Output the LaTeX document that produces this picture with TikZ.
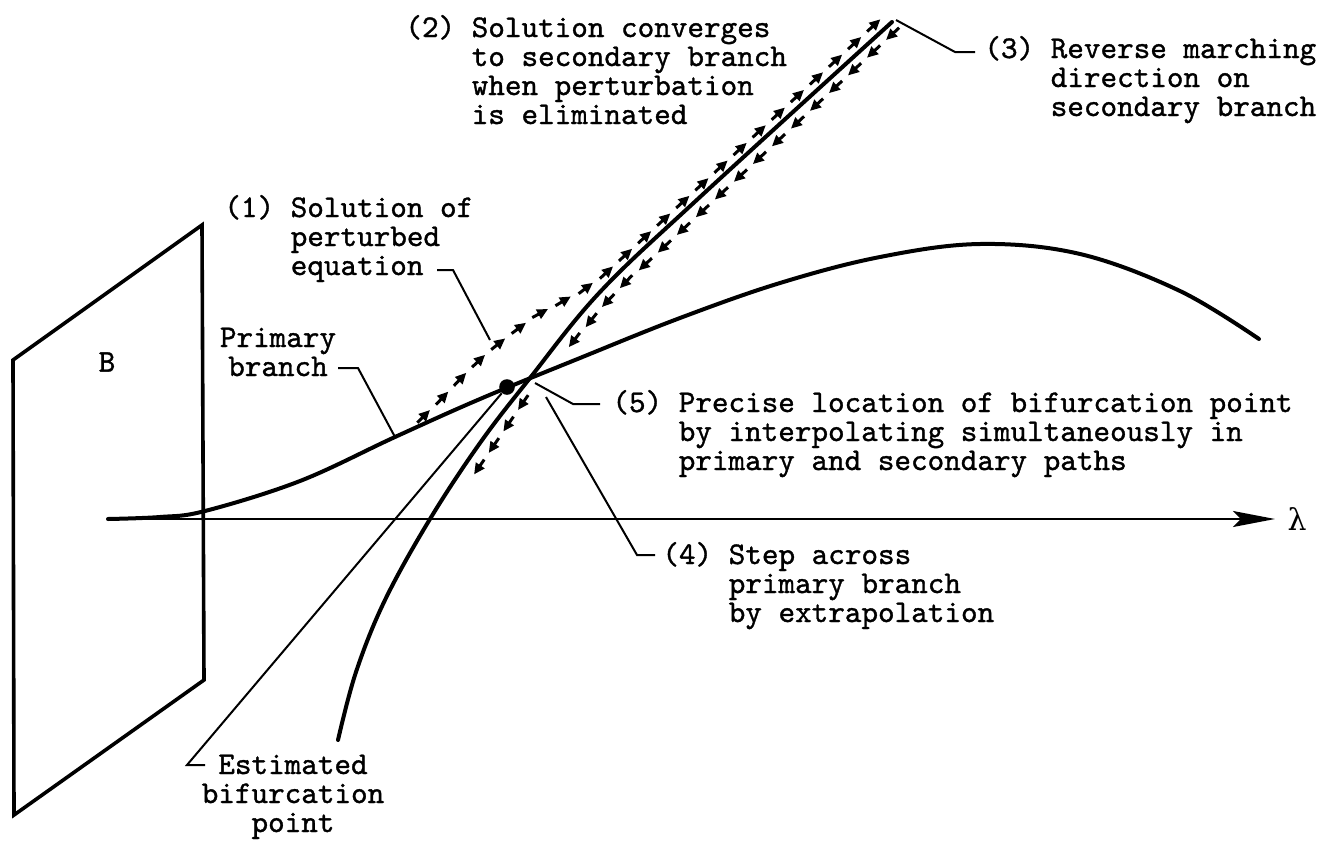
\documentclass[tikz,border=0pt]{standalone}
\usepackage{fontspec}
\usetikzlibrary{arrows.meta,decorations.markings}
\newfontfamily\twf{lmmono10-regular.otf}[FakeBold=1.1]
\newfontfamily\lamf{DejaVu Serif}
\newcommand\twfont{\twf\fontsize{15.8pt}{14.5pt}\selectfont}
\begin{document}
\begin{tikzpicture}[x=0.5pt,y=-0.5pt,
  branch/.style={line width=2pt,line cap=round},
  plane/.style={line width=1.8pt,line join=miter},
  leader/.style={line width=1pt},
  lbl/.style={inner sep=0pt,anchor=base west,font=\twfont},
  clbl/.style={inner sep=0pt,anchor=base,font=\twfont},
  march/.style={decoration={markings,
      mark=between positions 0 and 1 step 13pt with
      {\draw[line width=1.5pt,-{Triangle[length=5.5pt,width=5pt]}] (-9pt,0) -- (0,0);}},
    decorate},
]
\useasboundingbox (0,0) rectangle (1333,841);

% plane B
\coordinate (p1) at (13,360);
\coordinate (p2) at (202,225);
\coordinate (p3) at (204,680);
\coordinate (p4) at (14,815);
\draw[plane] (p1) -- (p2) -- (p3) -- (p4) -- cycle;
\node[clbl,anchor=center] (B) at (107,362) {B};

% axis
\coordinate (origin) at (108,519);
\coordinate (axend) at (1275,519);
\draw[line width=1.2pt,-{Stealth[length=21pt,width=8pt,inset=4pt]}] (origin) -- (axend);
\node[anchor=center,inner sep=0pt] (lam) at (1297,519) {\lamf\fontsize{15pt}{15pt}\selectfont λ};

% primary branch
\draw[branch] plot[smooth,tension=0.6] coordinates {(108,519) (160,517) (205,511) (300,481) (395,437) (480,399) (580,358) (680,318) (780,283) (880,257) (980,244) (1080,254) (1180,291) (1259,339)};

% secondary branch
\draw[branch] plot[smooth,tension=0.6] coordinates {(338,740) (356,672) (385,600) (430,519) (480,443) (530,378) (600,292) (700,197) (892,22)};

% estimated bifurcation point
\node[circle,fill,inner sep=0pt,minimum size=7.8pt] (dot) at (507,387) {};

% marching paths
\path[march] (430,410) -- (447,393) -- (467,372) -- (487,353) -- (507,337) -- (527,322) -- (548,309) -- (570,297) -- (590,285) -- (607,272) -- (885,15);
\path[march] (886,40) -- (621,287) -- (600,309) -- (585,328) -- (572,343) -- (562,356);
\path[march] (518,410) -- (473,476);

% labels
\node[lbl] (t1) at (224,217) {\begin{tabular}[t]{@{}l@{}}(1) Solution of\\\hphantom{(1) }perturbed\\\hphantom{(1) }equation\end{tabular}};
\node[lbl] (t2) at (405,37) {\begin{tabular}[t]{@{}l@{}}(2) Solution converges\\\hphantom{(2) }to secondary branch\\\hphantom{(2) }when perturbation\\\hphantom{(2) }is eliminated\end{tabular}};
\node[lbl] (t3) at (984,58) {\begin{tabular}[t]{@{}l@{}}(3) Reverse marching\\\hphantom{(3) }direction on\\\hphantom{(3) }secondary branch\end{tabular}};
\node[lbl] (t4) at (662,564) {\begin{tabular}[t]{@{}l@{}}(4) Step across\\\hphantom{(4) }primary branch\\\hphantom{(4) }by extrapolation\end{tabular}};
\node[lbl] (t5) at (612,412) {\begin{tabular}[t]{@{}l@{}}(5) Precise location of bifurcation point\\\hphantom{(5) }by interpolating simultaneously in\\\hphantom{(5) }primary and secondary paths\end{tabular}};
\node[clbl] (tp) at (278,347) {\begin{tabular}[t]{@{}c@{}}Primary\\branch\end{tabular}};
\node[clbl] (te) at (293,774) {\begin{tabular}[t]{@{}c@{}}Estimated\\bifurcation\\point\end{tabular}};

% leaders
\coordinate (l1a) at (437,270); \coordinate (l1b) at (453,270); \coordinate (l1c) at (490,340);
\draw[leader] (l1a) -- (l1b) -- (l1c);
\coordinate (l3a) at (896,20); \coordinate (l3b) at (955,52); \coordinate (l3c) at (975,52);
\draw[leader] (l3a) -- (l3b) -- (l3c);
\coordinate (l5a) at (535,383); \coordinate (l5b) at (573,404); \coordinate (l5c) at (600,404);
\draw[leader] (l5a) -- (l5b) -- (l5c);
\coordinate (l4a) at (546,397); \coordinate (l4b) at (637,555); \coordinate (l4c) at (655,555);
\draw[leader] (l4a) -- (l4b) -- (l4c);
\coordinate (lpa) at (338,368); \coordinate (lpb) at (358,368); \coordinate (lpc) at (395,437);
\draw[leader] (lpa) -- (lpb) -- (lpc);
\coordinate (lea) at (187,765); \coordinate (leb) at (205,765);
\draw[leader] (dot) -- (lea) -- (leb);
\end{tikzpicture}
\end{document}
